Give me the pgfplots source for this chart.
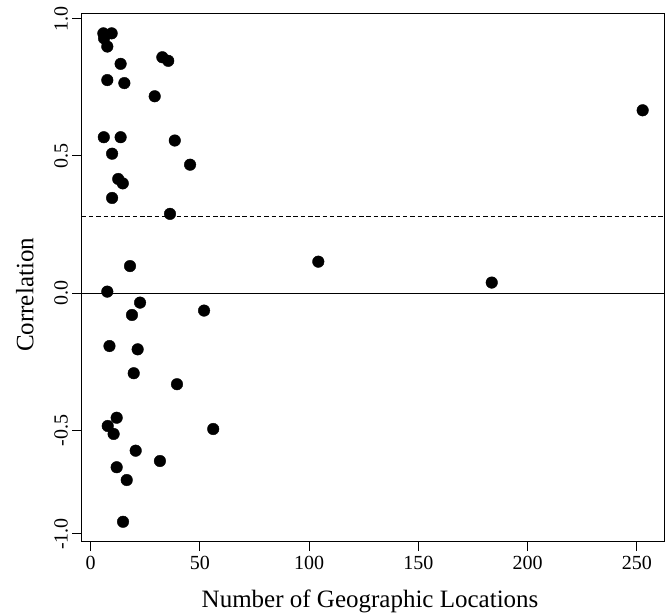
\documentclass[border=0pt]{standalone}
\usepackage{pgfplots}
\pgfplotsset{compat=1.18}
\usepackage{fontspec}
\setmainfont{Liberation Serif}

% correlation vs number of locations
\pgfplotstableread{
x y
5.8 0.946
9.6 0.946
6.1 0.928
7.6 0.898
32.8 0.859
35.5 0.846
13.7 0.835
7.6 0.776
15.4 0.765
29.3 0.717
252.7 0.666
6.0 0.568
13.7 0.568
38.5 0.556
9.8 0.508
45.5 0.468
12.6 0.416
14.7 0.400
9.8 0.347
36.3 0.289
18.0 0.099
104.2 0.115
183.6 0.039
7.6 0.006
22.6 -0.034
18.9 -0.079
51.9 -0.063
8.6 -0.192
21.5 -0.204
19.7 -0.291
39.5 -0.331
11.9 -0.453
7.8 -0.483
10.5 -0.516
56.1 -0.494
20.6 -0.597
31.7 -0.647
11.9 -0.677
16.5 -0.739
14.8 -0.941
}\pts

\begin{document}
\begin{tikzpicture}
\begin{axis}[
    scale only axis, width=582.6pt, height=528.4pt,
    xmin=-4.12, xmax=262.6, ymin=-1.0375, ymax=1.019,
    % the lower part of the original figure is squeezed
    y coord trafo/.code={\pgfmathparse{#1<-0.5 ? -0.5+(#1+0.5)*0.752 : #1}},
    y coord inv trafo/.code={\pgfmathparse{#1<-0.5 ? -0.5+(#1+0.5)/0.752 : #1}},
    axis line style={line width=1pt},
    every tick/.style={black, line width=1pt},
    tick align=outside, major tick length=9.5pt,
    xtick pos=bottom, ytick pos=left,
    xtick={0,50,100,150,200,250},
    xticklabels={0,50,100,150,200,250},
    ytick={-1,-0.5,0,0.5,1},
    yticklabels={-1.0,-0.5,0.0,0.5,1.0},
    tick label style={font=\fontsize{20}{24}\selectfont},
    xticklabel style={inner sep=4.5pt},
    yticklabel style={rotate=90, anchor=south, inner sep=4pt},
    xlabel={Number of Geographic Locations},
    ylabel={Correlation},
    label style={font=\fontsize{25}{30}\selectfont, inner sep=0pt},
    xlabel style={at={(axis description cs:0.495,-0.124)}, anchor=base},
    ylabel style={at={(axis description cs:-0.0831,0.467)}, anchor=base},
]
\addplot[black, line width=1.1pt] coordinates {(-4.12,0) (262.6,0)};
\addplot[black, line width=1pt, dash pattern=on 4.5pt off 2.8pt] coordinates {(-4.12,0.281) (262.6,0.281)};
\addplot[only marks, mark=*, mark size=5.8pt, black] table[x=x, y=y] {\pts};
\end{axis}
\pgfresetboundingbox
\path[use as bounding box] ([shift={(-81.7pt,-72.3pt)}]current axis.south west) rectangle ([shift={(5.7pt,13.3pt)}]current axis.north east);
\end{tikzpicture}
\end{document}
